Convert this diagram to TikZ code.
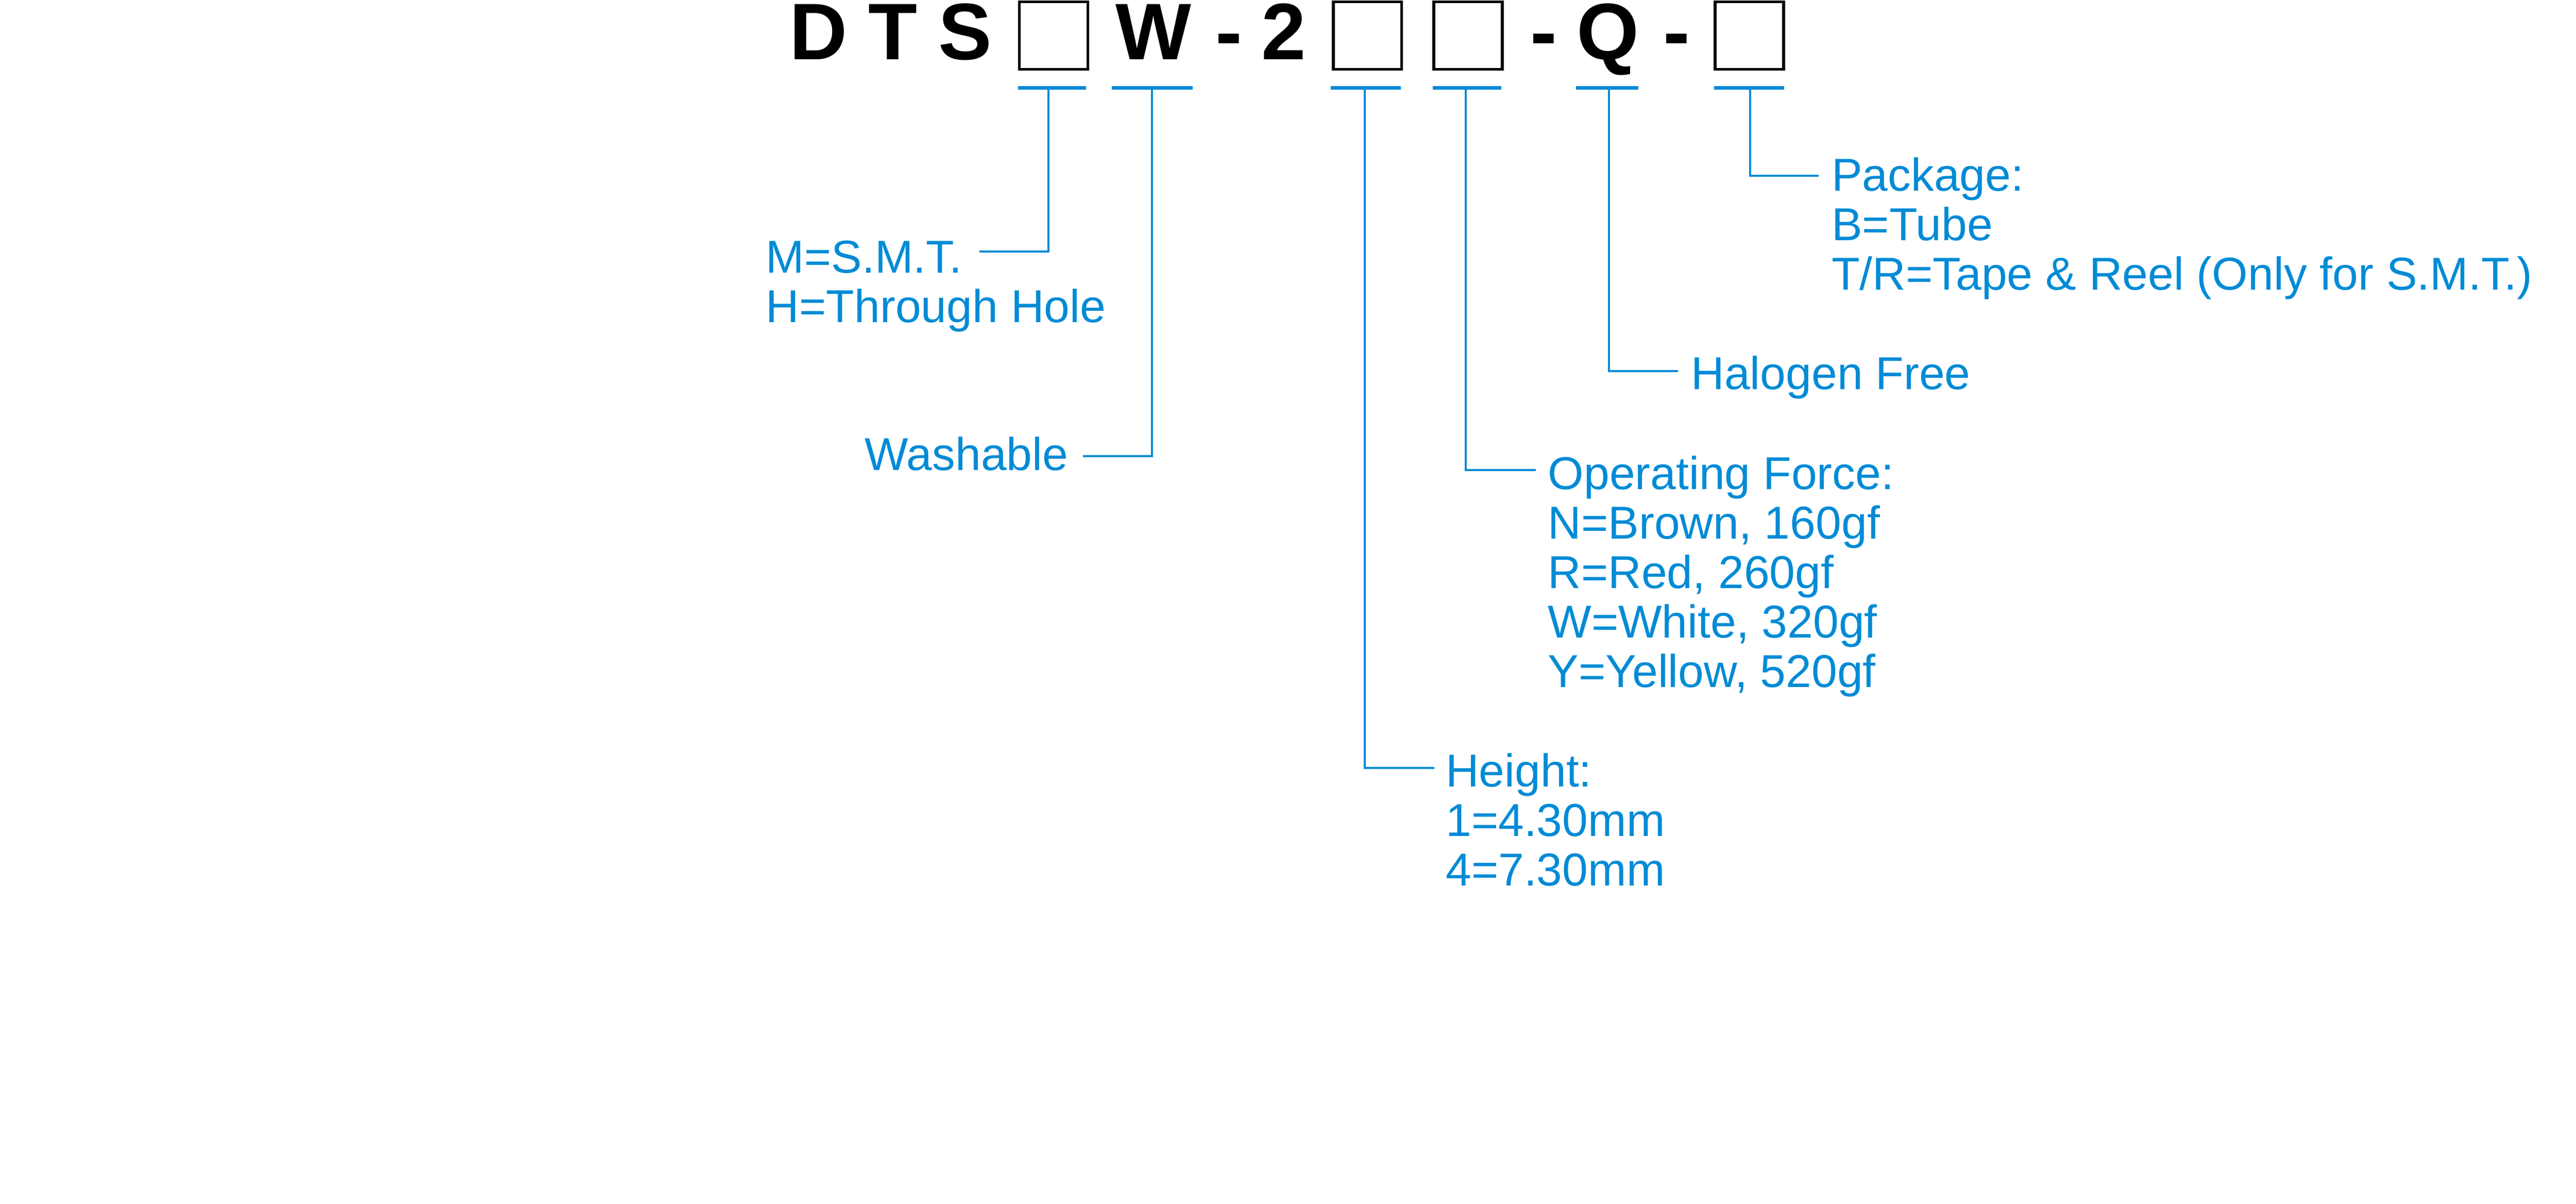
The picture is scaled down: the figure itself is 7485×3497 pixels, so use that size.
\documentclass[tikz,border=0pt]{standalone}
\usepackage{fontspec}
\setmainfont{Liberation Sans}
\definecolor{pnblue}{RGB}{0,139,214}
\begin{document}
\begin{tikzpicture}[x=0.1pt,y=-0.1pt,
  lbl/.style={anchor=base west, inner sep=0pt, outer sep=0pt, text=pnblue,
              font=\fontsize{13.4pt}{14.38pt}\selectfont, align=left},
  hdr/.style={anchor=base, inner sep=0pt, outer sep=0pt,
              font=\fontsize{23.3pt}{24pt}\selectfont\bfseries},
  codebox/.style={draw=black, line width=0.8pt, inner sep=0pt,
              minimum width=19.9pt, minimum height=19.6pt},
  bar/.style={draw=pnblue, line width=1.1pt},
  lead/.style={draw=pnblue, line width=0.6pt, line join=miter}]
\useasboundingbox (0,0) rectangle (7485,3497);

% header characters
\node[hdr] (hD) at (2378,173) {D};
\node[hdr] (hT) at (2595,173) {T};
\node[hdr] (hS) at (2805,173) {S};
\node[codebox] (b1) at (3061.5,103) {};
\node[hdr] (hW) at (3352,173) {W};
\node[hdr] (hd1) at (3571,173) {-};
\node[hdr] (h2) at (3730,173) {2};
\node[codebox] (b2) at (3973.5,103) {};
\node[codebox] (b3) at (4265.5,103) {};
\node[hdr] (hd2) at (4486,173) {-};
\node[hdr] (hQ) at (4672,173) {Q};
\node[hdr] (hd3) at (4872,173) {-};
\node[codebox] (b4) at (5083,103) {};

% blue marker bars
\draw[bar] (2958,255.5) -- (3156,255.5);
\draw[bar] (3230,255.5) -- (3466,255.5);
\draw[bar] (3867,255.5) -- (4070,255.5);
\draw[bar] (4163,255.5) -- (4362,255.5);
\draw[bar] (4580,255.5) -- (4761,255.5);
\draw[bar] (4981,255.5) -- (5184,255.5);

% labels (multi-line nodes: base anchor is the last line's baseline)
\node[lbl] (smt) at (2226,937) {M=S.M.T.\\H=Through Hole};
\node[lbl] (wash) at (2513,1366) {Washable};
\node[lbl] (height) at (4201,2573) {Height:\\1=4.30mm\\4=7.30mm};
\node[lbl] (force) at (4498,1996) {Operating Force:\\N=Brown, 160gf\\R=Red, 260gf\\W=White, 320gf\\Y=Yellow, 520gf};
\node[lbl] (halo) at (4914,1131) {Halogen Free};
\node[lbl] (pkg) at (5322,842) {Package:\\B=Tube\\T/R=Tape \& Reel (Only for S.M.T.)};

% connector start points (on the bars) and end points (beside the labels)
\coordinate (s1) at (3047,255.5);
\coordinate (s2) at (3347,255.5);
\coordinate (s3) at (3966,255.5);
\coordinate (s4) at (4259,255.5);
\coordinate (s5) at (4675,255.5);
\coordinate (s6) at (5085,255.5);
\coordinate (e1) at (2846,730);
\coordinate (e2) at (3146,1325);
\coordinate (e3) at (4167,2230);
\coordinate (e4) at (4463,1365);
\coordinate (e5) at (4876,1078);
\coordinate (e6) at (5284,511);

\draw[lead] (s1) |- (e1);
\draw[lead] (s2) |- (e2);
\draw[lead] (s3) |- (e3);
\draw[lead] (s4) |- (e4);
\draw[lead] (s5) |- (e5);
\draw[lead] (s6) |- (e6);
\end{tikzpicture}
\end{document}
